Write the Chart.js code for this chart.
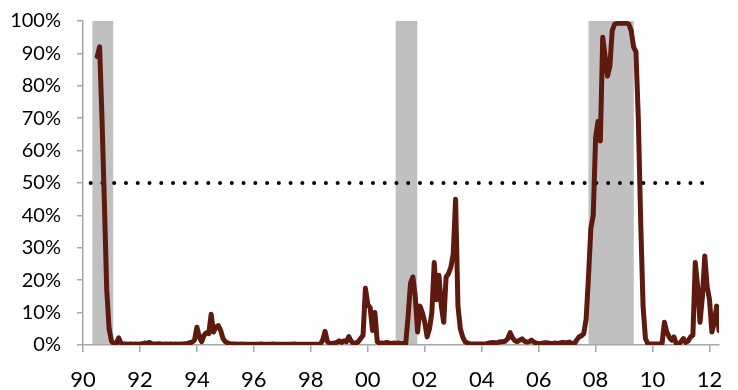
<!DOCTYPE html>
<html>
<head>
<meta charset="utf-8">
<script src="https://cdn.jsdelivr.net/npm/chart.js@4/dist/chart.umd.min.js"></script>
<style>
  html, body { margin: 0; padding: 0; background: #fff; }
  #wrap { width: 738px; height: 390px; }
</style>
</head>
<body>
<div id="wrap"><canvas id="c" width="738" height="390"></canvas></div>
<script>
// Monthly recession probability (%), starting July 1990
const firstYear = 1990;
const firstMonth = 7;
const probability = [
  /* 1990 Jul-Dec */ 89, 92, 70, 44, 17, 5,
  /* 1991 */ 1.2, 0.4, 0.5, 2.2, 0.6, 0.3, 0.3, 0.2, 0.3, 0.2, 0.3, 0.2,
  /* 1992 */ 0.3, 0.4, 0.6, 0.5, 0.8, 0.4, 0.3, 0.3, 0.4, 0.3, 0.2, 0.3,
  /* 1993 */ 0.2, 0.3, 0.2, 0.3, 0.2, 0.3, 0.3, 0.4, 0.5, 0.7, 0.9, 1.5,
  /* 1994 */ 5.5, 2.5, 1.0, 3.0, 3.8, 3.5, 9.5, 4.0, 5.5, 6.0, 4.5, 2.0,
  /* 1995 */ 1.0, 0.6, 0.4, 0.3, 0.3, 0.2, 0.2, 0.3, 0.2, 0.2, 0.2, 0.2,
  /* 1996 */ 0.2, 0.2, 0.2, 0.3, 0.2, 0.2, 0.2, 0.2, 0.3, 0.2, 0.2, 0.2,
  /* 1997 */ 0.2, 0.2, 0.2, 0.2, 0.2, 0.3, 0.2, 0.2, 0.2, 0.2, 0.2, 0.2,
  /* 1998 */ 0.2, 0.2, 0.2, 0.2, 0.3, 1.5, 4.2, 1.0, 0.5, 0.5, 0.6, 0.8,
  /* 1999 */ 1.3, 0.8, 1.3, 1.0, 2.6, 1.2, 0.5, 0.6, 1.0, 2.0, 3.0, 17.5,
  /* 2000 */ 12.5, 11.5, 4.5, 10.0, 1.0, 0.5, 0.6, 0.5, 0.8, 0.6, 0.5, 0.6,
  /* 2001 */ 0.5, 0.6, 0.4, 0.5, 0.5, 9.0, 19.0, 21.0, 15.0, 4.0, 12.0, 10.0,
  /* 2002 */ 7.0, 2.5, 5.0, 10.0, 25.5, 14.0, 21.5, 12.0, 7.0, 21.0, 22.0, 24.0,
  /* 2003 */ 28.0, 45.0, 12.0, 5.0, 2.5, 1.0, 0.6, 0.4, 0.3, 0.3, 0.3, 0.3,
  /* 2004 */ 0.3, 0.3, 0.4, 0.6, 0.7, 0.8, 0.6, 0.8, 1.0, 1.0, 1.2, 2.0,
  /* 2005 */ 3.8, 2.2, 1.3, 1.0, 1.5, 1.9, 1.2, 0.9, 1.0, 1.5, 0.9, 0.6,
  /* 2006 */ 0.4, 0.5, 0.6, 0.7, 0.6, 0.5, 0.5, 0.6, 0.5, 0.6, 0.8, 0.7,
  /* 2007 */ 0.7, 0.9, 0.5, 0.3, 1.5, 2.5, 2.8, 3.5, 8.0, 21.0, 36.0, 40.0,
  /* 2008 */ 64.0, 69.0, 63.0, 95.0, 89.0, 83.0, 86.0, 97.0, 99.0, 99.3, 99.3, 99.3,
  /* 2009 */ 99.3, 99.3, 99.0, 97.0, 92.0, 90.5, 70.0, 38.0, 12.0, 2.0, 0.4, 0.3,
  /* 2010 */ 0.3, 0.3, 0.3, 0.3, 0.5, 7.0, 4.0, 2.5, 1.5, 2.5, 0.3, 0.3,
  /* 2011 */ 1.0, 2.0, 0.8, 1.2, 2.5, 3.0, 25.5, 18.0, 7.0, 15.0, 27.5, 18.0,
  /* 2012 Jan-May */ 14.0, 4.0, 7.0, 12.0, 4.5
];

// Recession periods (decimal years)
const recessionStarts = [1990.33, 2000.98, 2007.75];
const recessionEnds   = [1991.06, 2001.74, 2009.34];

// 50% threshold line
const thresholdLevel = 50;
const thresholdFrom = 1990.27;
const thresholdTo = 2011.95;

// Axis ticks
const yearTicks = [1990, 1992, 1994, 1996, 1998, 2000, 2002, 2004, 2006, 2008, 2010, 2012];
const percentTicks = [0, 10, 20, 30, 40, 50, 60, 70, 80, 90, 100];
const axisStart = 1990;
const axisEnd = 2012.333;

const series = probability.map((v, i) => ({
  x: firstYear + (firstMonth - 1 + i) / 12,
  y: v
}));

const recessionShading = {
  id: 'recessionShading',
  beforeDraw(chart) {
    const { ctx, scales: { x, y } } = chart;
    const top = y.getPixelForValue(percentTicks[percentTicks.length - 1]);
    const bottom = y.getPixelForValue(percentTicks[0]);
    ctx.save();
    ctx.fillStyle = '#c0c0c0';
    recessionStarts.forEach((s, i) => {
      const x0 = x.getPixelForValue(s);
      const x1 = x.getPixelForValue(recessionEnds[i]);
      ctx.fillRect(x0, top, x1 - x0, bottom - top);
    });
    ctx.restore();
  }
};

const axisColor = '#a6a6a6';

new Chart(document.getElementById('c'), {
  type: 'line',
  data: {
    datasets: [
      {
        data: series,
        borderColor: '#5e1a0e',
        borderWidth: 5,
        borderJoinStyle: 'round',
        borderCapStyle: 'round',
        pointRadius: 0,
        tension: 0,
        order: 1
      },
      {
        data: [{ x: thresholdFrom, y: thresholdLevel }, { x: thresholdTo, y: thresholdLevel }],
        borderColor: '#000',
        borderWidth: 4,
        borderDash: [0, 11.76],
        borderCapStyle: 'round',
        pointRadius: 0,
        order: 2
      }
    ]
  },
  options: {
    responsive: false,
    animation: false,
    devicePixelRatio: 1,
    layout: { padding: { top: 21, right: 19, left: 0, bottom: 0 } },
    plugins: { legend: { display: false }, tooltip: { enabled: false } },
    scales: {
      x: {
        type: 'linear',
        min: axisStart,
        max: axisEnd,
        afterFit: s => { s.height = 45; s.paddingLeft = 0; s.paddingRight = 0; },
        afterBuildTicks: s => { s.ticks = yearTicks.map(v => ({ value: v })); },
        grid: { drawOnChartArea: false, drawTicks: true, tickLength: 7, color: axisColor, lineWidth: 1.5 },
        border: { display: true, color: axisColor, width: 1.5 },
        ticks: {
          color: '#000',
          font: { family: 'Lato', size: 22 },
          padding: 15,
          maxRotation: 0,
          autoSkip: false,
          callback: v => String(v % 100).padStart(2, '0')
        }
      },
      y: {
        min: 0,
        max: 100,
        afterFit: s => { s.width = 83; s.paddingTop = 0; s.paddingBottom = 0; },
        afterBuildTicks: s => { s.ticks = percentTicks.map(v => ({ value: v })); },
        grid: { drawOnChartArea: false, drawTicks: true, tickLength: 6, color: axisColor, lineWidth: 1.5 },
        border: { display: true, color: axisColor, width: 1.5 },
        ticks: {
          color: '#000',
          font: { family: 'Lato', size: 20 },
          padding: 16,
          callback: v => v + '%'
        }
      }
    }
  },
  plugins: [recessionShading]
});
</script>
</body>
</html>
